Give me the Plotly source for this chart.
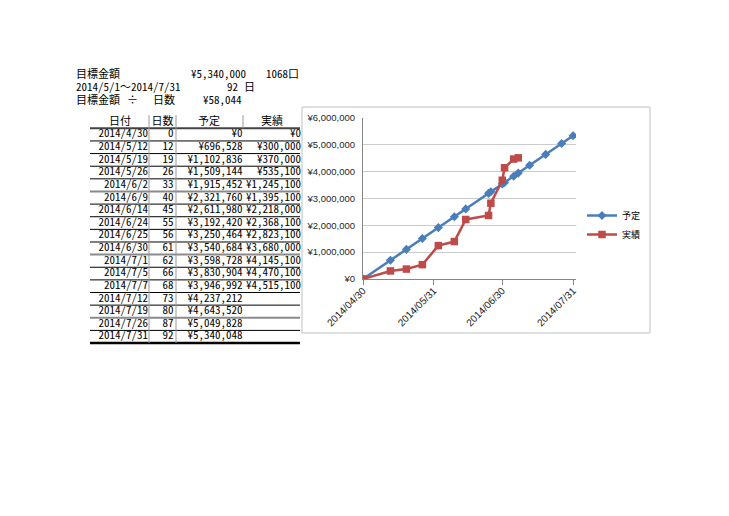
import plotly.graph_objects as go

W, H = 729, 516

# ---------------- data ----------------
dates = ['2014-04-30', '2014-05-12', '2014-05-19', '2014-05-26', '2014-06-02',
         '2014-06-09', '2014-06-14', '2014-06-24', '2014-06-25', '2014-06-30',
         '2014-07-01', '2014-07-05', '2014-07-07', '2014-07-12', '2014-07-19',
         '2014-07-26', '2014-07-31']
date_labels = ['2014/4/30', '2014/5/12', '2014/5/19', '2014/5/26', '2014/6/2',
               '2014/6/9', '2014/6/14', '2014/6/24', '2014/6/25', '2014/6/30',
               '2014/7/1', '2014/7/5', '2014/7/7', '2014/7/12', '2014/7/19',
               '2014/7/26', '2014/7/31']
day_counts = [0, 12, 19, 26, 33, 40, 45, 55, 56, 61, 62, 66, 68, 73, 80, 87, 92]
plan = [0, 696528, 1102836, 1509144, 1915452, 2321760, 2611980, 3192420,
        3250464, 3540684, 3598728, 3830904, 3946992, 4237212, 4643520,
        5049828, 5340048]
actual = [0, 300000, 370000, 535100, 1245100, 1395100, 2218000, 2368100,
          2823100, 3680000, 4145100, 4470100, 4515100]
headers = ['日付', '日数', '予定', '実績']
series_names = ['予定', '実績']
x_tickvals = ['2014-04-30', '2014-05-31', '2014-06-30', '2014-07-31']
x_ticktext = ['2014/04/30', '2014/05/31', '2014/06/30', '2014/07/31']
target_amount = 5340000
target_units = 1068
period_label = '2014/5/1～2014/7/31'
period_days = 92
daily_amount = 58044

# ---------------- styles ----------------
MONO = "Noto Sans Mono CJK JP, Liberation Mono, Noto Sans CJK JP, monospace"
SANS = "Liberation Sans, Arial, Noto Sans CJK JP, sans-serif"
JP = "Noto Sans CJK JP, sans-serif"
BLUE = '#4A7EBB'
RED = '#BE4B48'


def px(x):
    return x / W


def py(y):
    return 1 - y / H


def yen(v):
    return '¥{:,}'.format(v)


ROW0 = 122.0   # pixel centre of header row
ROWH = 12.63   # row pitch in pixels

fig = go.Figure()

# ---------------- chart ----------------
fig.add_trace(go.Scatter(
    x=dates, y=plan, name=series_names[0], mode='lines+markers',
    line=dict(color=BLUE, width=2.5),
    marker=dict(symbol='diamond', size=7, color=BLUE),
    xaxis='x', yaxis='y'))
fig.add_trace(go.Scatter(
    x=dates[:len(actual)], y=actual, name=series_names[1], mode='lines+markers',
    line=dict(color=RED, width=2.5),
    marker=dict(symbol='square', size=7.5, color=RED),
    xaxis='x', yaxis='y'))

# ---------------- table (text on a hidden pixel/row axis) ----------------
n = len(dates)
rows = list(range(1, n + 1))
tfont = dict(family=MONO, size=11, color='black')
common = dict(mode='text', xaxis='x2', yaxis='y2', showlegend=False,
              hoverinfo='skip', cliponaxis=True, textfont=tfont)
fig.add_trace(go.Scatter(x=[120, 162.5, 209, 272], y=[0] * 4, text=headers,
                         textposition='middle center', **common))
fig.add_trace(go.Scatter(x=[148] * n, y=rows, text=date_labels,
                         textposition='middle left', **common))
fig.add_trace(go.Scatter(x=[173.5] * n, y=rows, text=[str(d) for d in day_counts],
                         textposition='middle left', **common))
fig.add_trace(go.Scatter(x=[242.5] * n, y=rows, text=[yen(v) for v in plan],
                         textposition='middle left', **common))
fig.add_trace(go.Scatter(x=[301] * len(actual), y=rows[:len(actual)],
                         text=[yen(v) for v in actual],
                         textposition='middle left', **common))

shapes = []
# chart area box
shapes.append(dict(type='rect', xref='paper', yref='paper',
                   x0=px(302), x1=px(650), y0=py(333), y1=py(107),
                   line=dict(color='#c0c0c0', width=1), fillcolor='white',
                   layer='below'))
# table horizontal rules
gray_rows = {5, 10, 15}
for r in range(0, n + 1):
    yv = r + 0.5
    if r == 0:
        ln = dict(color='#444444', width=2)
    elif r == n:
        ln = dict(color='black', width=2.5)
    elif r in gray_rows:
        ln = dict(color='#8a8a8a', width=2)
    else:
        ln = dict(color='black', width=1)
    shapes.append(dict(type='line', xref='x2', yref='y2', x0=90, x1=300,
                       y0=yv, y1=yv, line=ln, layer='above'))
# table vertical rules
for xv in (149, 176):
    shapes.append(dict(type='line', xref='x2', yref='y2', x0=xv, x1=xv,
                       y0=-0.55, y1=n + 0.5, line=dict(color='#999999', width=1)))
shapes.append(dict(type='line', xref='x2', yref='y2', x0=243, x1=243,
                   y0=-0.55, y1=0.5, line=dict(color='#999999', width=1)))

# ---------------- summary lines ----------------
afont = dict(family=MONO, size=11, color='black')
summary = [
    ('目標金額', 75, 73, 'left'),
    (yen(target_amount), 247, 73, 'right'),
    ('{}口'.format(target_units), 300, 73, 'right'),
    (period_label, 75, 86, 'left'),
    (str(period_days), 239, 86, 'right'),
    ('日', 243, 86, 'left'),
    ('目標金額', 75, 99, 'left'),
    ('÷', 132, 99, 'center'),
    ('日数', 152, 99, 'left'),
    (yen(daily_amount), 243, 99, 'right'),
]
annotations = []
for txt, x, y, anc in summary:
    annotations.append(dict(text=txt, x=px(x), y=py(y), xref='paper', yref='paper',
                            xanchor=anc, yanchor='middle', showarrow=False,
                            font=afont, borderpad=0))

fig.update_layout(
    width=W, height=H, margin=dict(l=0, r=0, t=0, b=0, autoexpand=False),
    paper_bgcolor='white', plot_bgcolor='rgba(0,0,0,0)',
    shapes=shapes, annotations=annotations,
    showlegend=True,
    legend=dict(x=px(582), y=py(201), xanchor='left', yanchor='top',
                bgcolor='rgba(0,0,0,0)', font=dict(family=JP, size=9, color='black'),
                itemwidth=30, tracegroupgap=0),
    xaxis=dict(domain=[px(363), px(576)], anchor='y', type='date',
               range=['2014-04-30', '2014-08-01 07:00'],
               tickvals=x_tickvals, ticktext=x_ticktext, tickangle=-45,
               tickfont=dict(family=SANS, size=10, color='#1a1a1a'),
               showgrid=False, showline=True, linecolor='#868686', linewidth=1,
               ticks='outside', ticklen=5, tickcolor='#868686', zeroline=False,
               ticklabelstandoff=-4, automargin=False),
    yaxis=dict(domain=[py(279), py(118)], anchor='x', range=[0, 6000000],
               dtick=1000000, tickprefix='¥', tickformat=',d',
               tickfont=dict(family=SANS, size=9.5, color='#262626'),
               showgrid=True, gridcolor='#cccccc', gridwidth=1,
               showline=True, linecolor='#868686', linewidth=1,
               ticks='', ticklabelstandoff=5, zeroline=False,
               automargin=False),
    xaxis2=dict(domain=[0, px(302)], anchor='y2', range=[0, 302], visible=False,
                fixedrange=True, automargin=False),
    yaxis2=dict(domain=[0, 1], anchor='x2',
                range=[(H - ROW0) / ROWH, -ROW0 / ROWH], visible=False,
                fixedrange=True, automargin=False),
)

fig.write_html("out.html", config={'displayModeBar': False},
               post_script="document.body.style.margin='0';document.body.style.overflow='hidden';")
